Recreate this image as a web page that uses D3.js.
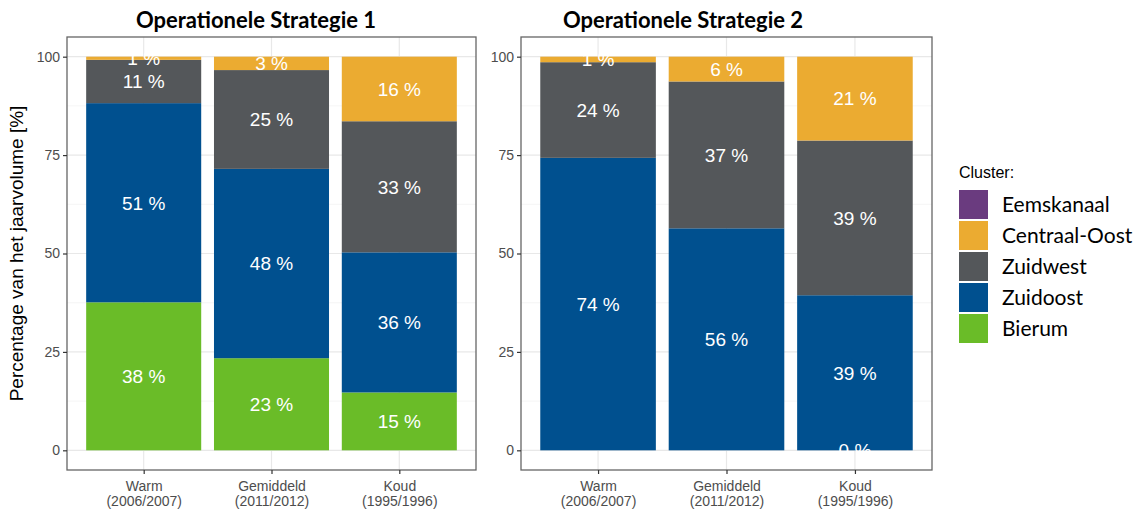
<!DOCTYPE html>
<html>
<head>
<meta charset="utf-8">
<script src="https://cdn.jsdelivr.net/npm/d3@7"></script>
<style>
  body { margin: 0; background: #fff; }
  svg { display: block; }
</style>
</head>
<body>
<div id="wrapper"></div>
<script>
/* global d3 */
const categories = ["Warm|(2006/2007)", "Gemiddeld|(2011/2012)", "Koud|(1995/1996)"];
const clusters = ["Eemskanaal", "Centraal-Oost", "Zuidwest", "Zuidoost", "Bierum"];
const clusterColors = ["#6A3B7F", "#EBAB31", "#54575A", "#00508F", "#6ABC28"];
const yTicks = [0, 25, 50, 75, 100];

// Operationele Strategie 1 (percent per cluster, per category; null = not present)
const s1Bierum = [37.6, 23.4, 14.7];
const s1Zuidoost = [50.6, 48.1, 35.6];
const s1Zuidwest = [11.0, 25.1, 33.3];
const s1CentraalOost = [0.8, 3.4, 16.4];
const s1Eemskanaal = [null, null, null];

// Operationele Strategie 2
const s2Bierum = [null, null, 0];
const s2Zuidoost = [74.3, 56.4, 39.4];
const s2Zuidwest = [24.3, 37.3, 39.3];
const s2CentraalOost = [1.4, 6.3, 21.3];
const s2Eemskanaal = [null, null, null];

const width = 1141;
const height = 511;
const panelTop = 37;
const panelBottom = 470;

const makeRows = (bierum, zuidoost, zuidwest, centraal, eems) =>
  categories.map((c, i) => ({
    cat: c,
    "Bierum": bierum[i],
    "Zuidoost": zuidoost[i],
    "Zuidwest": zuidwest[i],
    "Centraal-Oost": centraal[i],
    "Eemskanaal": eems[i],
  }));

const panels = [
  { title: "Operationele Strategie 1", titleX: 256, left: 67, right: 476,
    rows: makeRows(s1Bierum, s1Zuidoost, s1Zuidwest, s1CentraalOost, s1Eemskanaal) },
  { title: "Operationele Strategie 2", titleX: 683, left: 521, right: 932,
    rows: makeRows(s2Bierum, s2Zuidoost, s2Zuidwest, s2CentraalOost, s2Eemskanaal) },
];

const colorScale = d3.scaleOrdinal().domain(clusters).range(clusterColors);
const stackKeys = ["Bierum", "Zuidoost", "Zuidwest", "Centraal-Oost", "Eemskanaal"];
const stack = d3.stack()
  .keys(stackKeys)
  .value((d, key) => d[key] || 0);

const svg = d3.select("#wrapper")
  .append("svg")
  .attr("width", width)
  .attr("height", height);

const yScale = d3.scaleLinear()
  .domain([-5, 105])
  .range([panelBottom, panelTop]);

const axisFont = "'Liberation Sans', Arial, sans-serif";

panels.forEach((p) => {
  const xScale = d3.scalePoint()
    .domain(categories)
    .range([p.left, p.right])
    .padding(0.6);
  const barW = xScale.step() * 0.9;

  const g = svg.append("g");

  // grid
  const minor = [12.5, 37.5, 62.5, 87.5];
  g.selectAll(".minor")
    .data(minor)
    .enter()
    .append("line")
    .attr("x1", p.left).attr("x2", p.right)
    .attr("y1", (d) => yScale(d)).attr("y2", (d) => yScale(d))
    .attr("stroke", "#F2F2F2")
    .attr("stroke-width", 0.8);
  g.selectAll(".major")
    .data(yTicks)
    .enter()
    .append("line")
    .attr("x1", p.left).attr("x2", p.right)
    .attr("y1", (d) => yScale(d)).attr("y2", (d) => yScale(d))
    .attr("stroke", "#E8E8E8")
    .attr("stroke-width", 1.2);
  g.selectAll(".vgrid")
    .data(categories)
    .enter()
    .append("line")
    .attr("x1", (d) => xScale(d)).attr("x2", (d) => xScale(d))
    .attr("y1", panelTop).attr("y2", panelBottom)
    .attr("stroke", "#E8E8E8")
    .attr("stroke-width", 1.2);

  const series = stack(p.rows);

  // bars
  series.forEach((s) => {
    g.selectAll(null)
      .data(s.filter((d) => d[1] - d[0] > 0))
      .enter()
      .append("rect")
      .attr("x", (d) => xScale(d.data.cat) - barW / 2)
      .attr("y", (d) => yScale(d[1]))
      .attr("width", barW)
      .attr("height", (d) => yScale(d[0]) - yScale(d[1]))
      .attr("fill", colorScale(s.key));
  });

  // labels (white, so parts over the white panel vanish as in the original)
  series.forEach((s) => {
    g.selectAll(null)
      .data(s.filter((d) => d.data[s.key] !== null))
      .enter()
      .append("text")
      .attr("x", (d) => xScale(d.data.cat))
      .attr("y", (d) => yScale((d[0] + d[1]) / 2))
      .attr("dy", "0.36em")
      .attr("text-anchor", "middle")
      .style("font-family", axisFont)
      .style("font-size", "19px")
      .attr("fill", "#fff")
      .text((d) => `${Math.round(d[1] - d[0])} %`);
  });

  // border
  g.append("rect")
    .attr("x", p.left).attr("y", panelTop)
    .attr("width", p.right - p.left)
    .attr("height", panelBottom - panelTop)
    .attr("fill", "none")
    .attr("stroke", "#666")
    .attr("stroke-width", 1.3);

  // y axis
  const yAxis = g.append("g")
    .attr("transform", `translate(${p.left},0)`)
    .call(d3.axisLeft(yScale).tickValues(yTicks).tickSize(4).tickPadding(3));
  yAxis.select(".domain").remove();
  yAxis.selectAll("line").attr("stroke", "#333").attr("stroke-width", 1.2);
  yAxis.selectAll("text")
    .style("font-family", axisFont)
    .style("font-size", "14px")
    .attr("fill", "#4D4D4D");

  // x axis
  const xAxis = g.append("g")
    .attr("transform", `translate(0,${panelBottom})`)
    .call(d3.axisBottom(xScale).tickSize(4).tickFormat(""));
  xAxis.select(".domain").remove();
  xAxis.selectAll("line").attr("stroke", "#333").attr("stroke-width", 1.2);
  xAxis.selectAll(".tick")
    .append("text")
    .attr("text-anchor", "middle")
    .attr("fill", "#4D4D4D")
    .style("font-family", axisFont)
    .style("font-size", "14px")
    .each(function (d) {
      const parts = d.split("|");
      const t = d3.select(this);
      parts.forEach((line, i) => {
        t.append("tspan")
          .attr("x", 0)
          .attr("y", 21 + i * 15)
          .text(line);
      });
    });

  // title
  svg.append("text")
    .attr("x", p.titleX)
    .attr("y", 28)
    .attr("text-anchor", "middle")
    .style("font-family", "Lato, 'Open Sans', sans-serif")
    .style("font-weight", "bold")
    .style("font-size", "22px")
    .attr("fill", "#000")
    .text(p.title);
});

// y axis title
svg.append("text")
  .attr("transform", `translate(23,${(panelTop + panelBottom) / 2}) rotate(-90)`)
  .attr("text-anchor", "middle")
  .style("font-family", axisFont)
  .style("font-size", "19px")
  .attr("fill", "#000")
  .text("Percentage van het jaarvolume [%]");

// legend
const legend = svg.append("g").attr("transform", "translate(959,0)");
legend.append("text")
  .attr("x", 0)
  .attr("y", 178)
  .style("font-family", axisFont)
  .style("font-size", "16px")
  .attr("fill", "#000")
  .text("Cluster:");

const legendItems = legend.selectAll(".item")
  .data(clusters)
  .enter()
  .append("g")
  .attr("transform", (d, i) => `translate(0,${190 + i * 31})`);
legendItems.append("rect")
  .attr("width", 29)
  .attr("height", 29)
  .attr("fill", (d) => colorScale(d));
legendItems.append("text")
  .attr("x", 43)
  .attr("y", 15)
  .attr("dy", "0.35em")
  .style("font-family", "Lato, 'Open Sans', sans-serif")
  .style("font-size", "21px")
  .attr("fill", "#000")
  .text((d) => d);
</script>
</body>
</html>
